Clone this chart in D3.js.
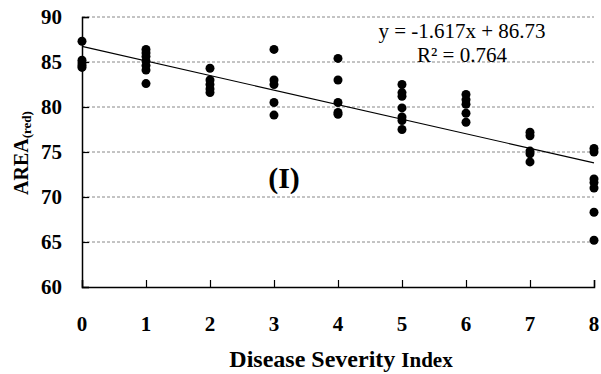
<!DOCTYPE html>
<html>
<head>
<meta charset="utf-8">
<script src="https://cdn.jsdelivr.net/npm/d3@7"></script>
<style>
  body { margin: 0; background: #fff; }
  text { font-family: "Liberation Serif", "Times New Roman", serif; }
</style>
</head>
<body>
<div id="chart"></div>
<script>
const width = 601;
const height = 374;

// data: disease severity index -> AREA(red) readings
const sev0 = [87.3, 85.2, 84.9, 84.6, 84.4];
const sev1 = [86.4, 86.0, 85.6, 85.1, 84.6, 84.1, 82.6];
const sev2 = [84.3, 83.0, 82.5, 82.0, 81.6];
const sev3 = [86.4, 83.0, 82.5, 80.5, 79.1];
const sev4 = [85.4, 83.0, 80.5, 79.4, 79.2];
const sev5 = [82.5, 81.6, 81.2, 79.9, 78.9, 78.5, 77.5];
const sev6 = [81.4, 80.8, 80.3, 79.3, 78.3];
const sev7 = [77.2, 76.8, 75.1, 74.8, 73.9];
const sev8 = [75.4, 75.0, 72.0, 71.6, 71.0, 68.3, 65.2];
const groups = [sev0, sev1, sev2, sev3, sev4, sev5, sev6, sev7, sev8];

const xTicks = [0, 1, 2, 3, 4, 5, 6, 7, 8];
const yTicks = [60, 65, 70, 75, 80, 85, 90];
const slope = -1.617;
const intercept = 86.73;

const points = [];
groups.forEach((vals, i) => vals.forEach(v => points.push({ x: i, y: v })));

const svg = d3.select("#chart")
  .append("svg")
  .attr("width", width)
  .attr("height", height);

const x = d3.scaleLinear().domain([0, 8]).range([82, 594]);
const y = d3.scaleLinear().domain([60, 90]).range([287, 17]);

// grid
svg.append("g")
  .selectAll("line")
  .data(yTicks.filter(t => t > 60))
  .enter()
  .append("line")
  .attr("x1", x(0))
  .attr("x2", x(8))
  .attr("y1", d => y(d))
  .attr("y2", d => y(d))
  .attr("stroke", "#888")
  .attr("stroke-width", 1)
  .attr("stroke-dasharray", "3,2");

// axes
const yAxis = svg.append("g")
  .attr("transform", `translate(${x(0)},0)`)
  .call(d3.axisRight(y).tickValues(yTicks).tickSize(7).tickFormat(""));
const xAxis = svg.append("g")
  .attr("transform", `translate(0,${y(60)})`)
  .call(d3.axisTop(x).tickValues(xTicks).tickSize(7).tickFormat(""));
[yAxis, xAxis].forEach(a => {
  a.select(".domain").attr("stroke", "#000").attr("stroke-width", 1.5);
  a.selectAll(".tick line").attr("stroke", "#000").attr("stroke-width", 1.2);
});

// tick labels
svg.append("g")
  .selectAll("text")
  .data(yTicks)
  .enter()
  .append("text")
  .attr("x", 62)
  .attr("y", d => y(d) + 7)
  .attr("text-anchor", "end")
  .attr("font-size", 21)
  .attr("font-weight", "bold")
  .text(d => d);

svg.append("g")
  .selectAll("text")
  .data(xTicks)
  .enter()
  .append("text")
  .attr("x", d => x(d))
  .attr("y", 331)
  .attr("text-anchor", "middle")
  .attr("font-size", 21)
  .attr("font-weight", "bold")
  .text(d => d);

// trend line
svg.append("line")
  .attr("x1", x(0))
  .attr("y1", y(intercept))
  .attr("x2", x(8))
  .attr("y2", y(intercept + slope * 8))
  .attr("stroke", "#000")
  .attr("stroke-width", 1.2);

// points
svg.append("g")
  .selectAll("circle")
  .data(points)
  .enter()
  .append("circle")
  .attr("cx", d => x(d.x))
  .attr("cy", d => y(d.y))
  .attr("r", 4.5)
  .attr("fill", "#000");

// equation
svg.append("text")
  .attr("x", 462)
  .attr("y", 38)
  .attr("text-anchor", "middle")
  .attr("font-size", 21)
  .text("y = -1.617x + 86.73");
svg.append("text")
  .attr("x", 462)
  .attr("y", 62)
  .attr("text-anchor", "middle")
  .attr("font-size", 21)
  .text("R² = 0.764");

// panel label
svg.append("text")
  .attr("x", 284)
  .attr("y", 188)
  .attr("text-anchor", "middle")
  .attr("font-size", 30)
  .attr("font-weight", "bold")
  .text("(I)");

// axis titles
const xt = svg.append("text")
  .attr("x", 341)
  .attr("y", 367)
  .attr("text-anchor", "middle")
  .attr("font-weight", "bold");
xt.append("tspan").attr("font-size", 24).text("Disease Severity ");
xt.append("tspan").attr("font-size", 21).text("Index");

const yt = svg.append("text")
  .attr("transform", "translate(28,153) rotate(-90)")
  .attr("text-anchor", "middle")
  .attr("font-weight", "bold");
yt.append("tspan").attr("font-size", 20).text("AREA");
yt.append("tspan").attr("font-size", 13).attr("dy", 3).text("(red)");
</script>
</body>
</html>
